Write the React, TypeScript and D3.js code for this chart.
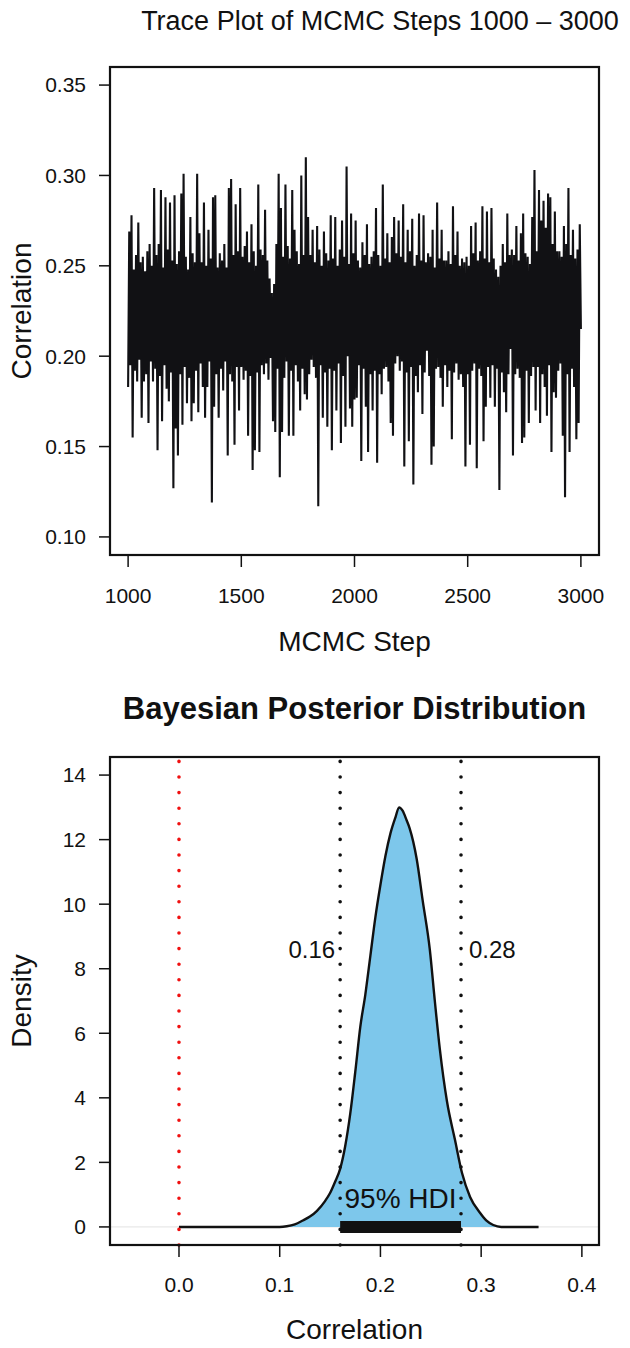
import React from "react";
import * as d3 from "d3";

// ---------- Trace plot data ----------
const traceStart = 1000;
const traceStepSize = 5;
const traceValues = [
  0.183, 0.269, 0.195, 0.278, 0.155, 0.248, 0.192, 0.256, 0.186, 0.274, 0.198, 0.252, 0.166, 0.255, 0.186, 0.247, 0.190, 0.258, 0.163, 0.262,
  0.197, 0.250, 0.186, 0.293, 0.193, 0.256, 0.148, 0.262, 0.189, 0.292, 0.164, 0.249, 0.195, 0.288, 0.182, 0.259, 0.175, 0.285, 0.191, 0.253,
  0.127, 0.289, 0.160, 0.251, 0.145, 0.258, 0.190, 0.290, 0.162, 0.301, 0.194, 0.255, 0.174, 0.248, 0.188, 0.277, 0.164, 0.257, 0.174, 0.252,
  0.192, 0.301, 0.169, 0.268, 0.196, 0.252, 0.183, 0.285, 0.166, 0.250, 0.183, 0.270, 0.197, 0.254, 0.119, 0.288, 0.172, 0.289, 0.190, 0.249,
  0.166, 0.257, 0.193, 0.253, 0.181, 0.262, 0.197, 0.249, 0.145, 0.293, 0.190, 0.298, 0.186, 0.256, 0.151, 0.284, 0.194, 0.258, 0.170, 0.293,
  0.194, 0.255, 0.187, 0.261, 0.192, 0.269, 0.156, 0.252, 0.189, 0.273, 0.137, 0.258, 0.148, 0.250, 0.191, 0.295, 0.147, 0.259, 0.195, 0.256,
  0.190, 0.281, 0.196, 0.253, 0.187, 0.243, 0.199, 0.235, 0.164, 0.240, 0.158, 0.262, 0.193, 0.301, 0.133, 0.282, 0.158, 0.255, 0.188, 0.295,
  0.197, 0.261, 0.156, 0.254, 0.192, 0.292, 0.156, 0.270, 0.195, 0.258, 0.186, 0.251, 0.170, 0.300, 0.193, 0.256, 0.179, 0.310, 0.176, 0.277,
  0.190, 0.256, 0.198, 0.270, 0.194, 0.252, 0.188, 0.272, 0.117, 0.259, 0.195, 0.250, 0.166, 0.269, 0.191, 0.257, 0.161, 0.253, 0.193, 0.278,
  0.148, 0.254, 0.192, 0.277, 0.170, 0.250, 0.196, 0.259, 0.152, 0.275, 0.189, 0.255, 0.161, 0.305, 0.200, 0.251, 0.171, 0.279, 0.161, 0.257,
  0.176, 0.275, 0.177, 0.253, 0.195, 0.249, 0.142, 0.263, 0.193, 0.256, 0.172, 0.273, 0.147, 0.251, 0.190, 0.255, 0.170, 0.258, 0.192, 0.282,
  0.141, 0.256, 0.190, 0.250, 0.179, 0.295, 0.193, 0.254, 0.194, 0.268, 0.186, 0.252, 0.163, 0.266, 0.156, 0.277, 0.196, 0.257, 0.200, 0.275,
  0.192, 0.255, 0.197, 0.284, 0.139, 0.252, 0.191, 0.270, 0.153, 0.258, 0.194, 0.276, 0.129, 0.250, 0.189, 0.256, 0.180, 0.279, 0.195, 0.253,
  0.168, 0.278, 0.191, 0.252, 0.203, 0.257, 0.189, 0.255, 0.140, 0.270, 0.150, 0.249, 0.193, 0.285, 0.194, 0.254, 0.188, 0.270, 0.172, 0.253,
  0.195, 0.253, 0.183, 0.258, 0.192, 0.251, 0.154, 0.283, 0.191, 0.256, 0.196, 0.269, 0.187, 0.250, 0.190, 0.254, 0.183, 0.252, 0.139, 0.255,
  0.190, 0.250, 0.151, 0.272, 0.192, 0.257, 0.196, 0.274, 0.138, 0.253, 0.193, 0.258, 0.189, 0.283, 0.153, 0.254, 0.172, 0.280, 0.194, 0.252,
  0.177, 0.282, 0.195, 0.254, 0.172, 0.248, 0.193, 0.244, 0.126, 0.250, 0.191, 0.262, 0.180, 0.252, 0.169, 0.279, 0.190, 0.256, 0.204, 0.259,
  0.145, 0.256, 0.190, 0.272, 0.193, 0.253, 0.188, 0.268, 0.152, 0.279, 0.155, 0.257, 0.192, 0.255, 0.163, 0.251, 0.189, 0.277, 0.194, 0.303,
  0.170, 0.258, 0.194, 0.292, 0.163, 0.275, 0.190, 0.286, 0.183, 0.271, 0.167, 0.290, 0.195, 0.288, 0.147, 0.262, 0.180, 0.280, 0.177, 0.258,
  0.192, 0.258, 0.196, 0.255, 0.156, 0.272, 0.122, 0.262, 0.190, 0.293, 0.147, 0.256, 0.193, 0.270, 0.183, 0.254, 0.154, 0.259, 0.163, 0.273,
  0.215,
];
const traceXTicks = [1000, 1500, 2000, 2500, 3000];
const traceYTicks = [0.1, 0.15, 0.2, 0.25, 0.3, 0.35];

// ---------- Posterior density data ----------
const densityX = [
  0, 0.1, 0.107, 0.115, 0.123, 0.13, 0.137, 0.145, 0.15, 0.155, 0.16, 0.165, 0.17, 0.175, 0.18, 0.185,
  0.19, 0.195, 0.2, 0.205, 0.21, 0.215, 0.2185, 0.222, 0.226, 0.229, 0.236, 0.242, 0.249, 0.254, 0.259,
  0.266, 0.274, 0.281, 0.289, 0.299, 0.305, 0.312, 0.32, 0.357,
];
const densityY = [
  0, 0, 0.02, 0.08, 0.2, 0.32, 0.5, 0.8, 1.05, 1.4, 1.8, 2.5, 3.5, 4.8, 6.2, 7.2,
  8.4, 9.6, 10.6, 11.5, 12.2, 12.7, 13.0, 12.9, 12.6, 12.35, 11.4, 10.1, 8.6, 7.0, 5.5,
  3.9, 2.7, 1.67, 0.93, 0.43, 0.2, 0.06, 0, 0,
];
const densityXTicks = [0, 0.1, 0.2, 0.3, 0.4];
const densityYTicks = [0, 2, 4, 6, 8, 10, 12, 14];
const hdiLow = 0.16;
const hdiHigh = 0.28;
const nullValue = 0;
const hdiLabelY = 8.6;

const FONT = "'Liberation Sans', Arial, Helvetica, sans-serif";

export default function App() {
  // trace scales
  const tL = 110, tR = 599, tT = 67, tB = 555;
  const tx = d3.scaleLinear().domain([920, 3080]).range([tL, tR]);
  const ty = d3.scaleLinear().domain([0.09, 0.36]).range([tB, tT]);
  const tracePath = d3
    .line<number>()
    .x((_, i) => tx(traceStart + i * traceStepSize))
    .y((v) => ty(v))(traceValues) as string;

  // density scales
  const dL = 110, dR = 599, dT = 757, dB = 1245;
  const dx = d3.scaleLinear().domain([-0.0685, 0.417]).range([dL, dR]);
  const dy = d3.scaleLinear().domain([-0.56, 14.56]).range([dB, dT]);
  const pts = densityX.map((x, i) => [x, densityY[i]] as [number, number]);
  const densLine = d3
    .line<[number, number]>()
    .x((d) => dx(d[0]))
    .y((d) => dy(d[1]))
    .curve(d3.curveMonotoneX)(pts) as string;
  const densArea = d3
    .area<[number, number]>()
    .x((d) => dx(d[0]))
    .y0(dy(0))
    .y1((d) => dy(d[1]))
    .curve(d3.curveMonotoneX)(pts) as string;

  const tickFs = 21;
  const axTitleFs = 28;
  const dotStyle = { strokeWidth: 3.6, strokeDasharray: "0 15.6", strokeLinecap: "round" as const };

  return (
    <svg
      width={630}
      height={1348}
      style={{ position: "absolute", left: 0, top: 0, display: "block", background: "#fff" }}
      fontFamily={FONT}
    >
      <rect x={0} y={0} width={630} height={1348} fill="#fff" />
      {/* ---------------- Trace plot ---------------- */}
      <text x={380} y={30} textAnchor="middle" fontSize={27} fill="#111">
        Trace Plot of MCMC Steps 1000 – 3000
      </text>
      <path d={tracePath} fill="none" stroke="#111114" strokeWidth={2.1} strokeLinejoin="miter" />
      <rect x={tL} y={tT} width={tR - tL} height={tB - tT} fill="none" stroke="#111" strokeWidth={2.2} />
      {traceYTicks.map((t) => (
        <g key={"ty" + t}>
          <line x1={tL - 11} x2={tL} y1={ty(t)} y2={ty(t)} stroke="#111" strokeWidth={1.5} />
          <text x={86} y={ty(t)} dy="0.35em" textAnchor="end" fontSize={tickFs} fill="#111">
            {t.toFixed(2)}
          </text>
        </g>
      ))}
      {traceXTicks.map((t) => (
        <g key={"tx" + t}>
          <line x1={tx(t)} x2={tx(t)} y1={tB} y2={tB + 12} stroke="#111" strokeWidth={1.5} />
          <text x={tx(t)} y={603} textAnchor="middle" fontSize={tickFs} fill="#111">
            {t}
          </text>
        </g>
      ))}
      <text x={(tL + tR) / 2} y={651} textAnchor="middle" fontSize={axTitleFs} fill="#111">
        MCMC Step
      </text>
      <text
        transform={`translate(31, ${(tT + tB) / 2}) rotate(-90)`}
        textAnchor="middle"
        fontSize={axTitleFs}
        fill="#111"
      >
        Correlation
      </text>

      {/* ---------------- Posterior density ---------------- */}
      <text x={(dL + dR) / 2} y={719} textAnchor="middle" fontSize={31} fontWeight="bold" fill="#111">
        Bayesian Posterior Distribution
      </text>
      <line x1={dL} x2={dR} y1={dy(0)} y2={dy(0)} stroke="#e2e2e2" strokeWidth={1} />
      <path d={densArea} fill="#7DC7EB" stroke="none" />
      <path d={densLine} fill="none" stroke="#111" strokeWidth={2.4} />
      <line x1={dx(hdiLow)} x2={dx(hdiHigh)} y1={dy(0)} y2={dy(0)} stroke="#111" strokeWidth={12} />
      <line x1={dx(nullValue)} x2={dx(nullValue)} y1={dB} y2={dT} stroke="#f01010" {...dotStyle} />
      <line x1={dx(hdiLow)} x2={dx(hdiLow)} y1={dB} y2={dT} stroke="#111" {...dotStyle} />
      <line x1={dx(hdiHigh)} x2={dx(hdiHigh)} y1={dB} y2={dT} stroke="#111" {...dotStyle} />
      <text x={dx(hdiLow) - 5} y={dy(hdiLabelY)} dy="0.35em" textAnchor="end" fontSize={24} fill="#111">
        {hdiLow.toFixed(2)}
      </text>
      <text x={dx(hdiHigh) + 8} y={dy(hdiLabelY)} dy="0.35em" textAnchor="start" fontSize={24} fill="#111">
        {hdiHigh.toFixed(2)}
      </text>
      <text x={dx((hdiLow + hdiHigh) / 2)} y={1208} textAnchor="middle" fontSize={28} fill="#111">
        95% HDI
      </text>
      <rect x={dL} y={dT} width={dR - dL} height={dB - dT} fill="none" stroke="#111" strokeWidth={2.2} />
      {densityYTicks.map((t) => (
        <g key={"dy" + t}>
          <line x1={dL - 11} x2={dL} y1={dy(t)} y2={dy(t)} stroke="#111" strokeWidth={1.5} />
          <text x={86} y={dy(t)} dy="0.35em" textAnchor="end" fontSize={tickFs} fill="#111">
            {t}
          </text>
        </g>
      ))}
      {densityXTicks.map((t) => (
        <g key={"dx" + t}>
          <line x1={dx(t)} x2={dx(t)} y1={dB} y2={dB + 12} stroke="#111" strokeWidth={1.5} />
          <text x={dx(t)} y={1292} textAnchor="middle" fontSize={tickFs} fill="#111">
            {t.toFixed(1)}
          </text>
        </g>
      ))}
      <text x={(dL + dR) / 2} y={1339} textAnchor="middle" fontSize={axTitleFs} fill="#111">
        Correlation
      </text>
      <text
        transform={`translate(31, ${(dT + dB) / 2}) rotate(-90)`}
        textAnchor="middle"
        fontSize={axTitleFs}
        fill="#111"
      >
        Density
      </text>
    </svg>
  );
}
